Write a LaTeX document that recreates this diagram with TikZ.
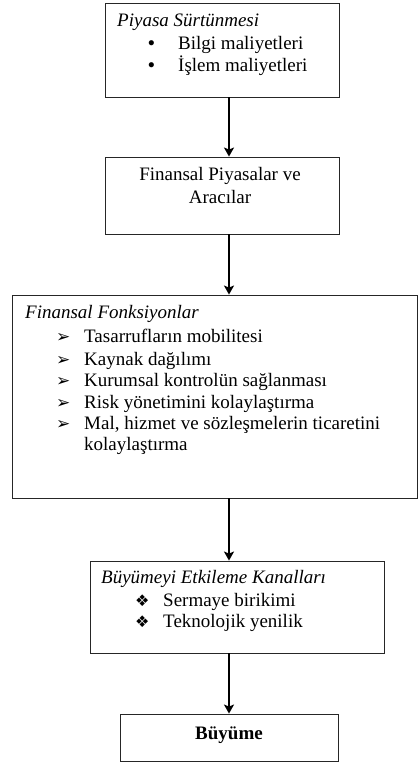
\documentclass[tikz,border=0pt]{standalone}
\usepackage{fontspec}
\setmainfont{Liberation Serif}
\newfontfamily\symfont{DejaVu Sans}
\usetikzlibrary{arrows.meta}
\tikzset{
  box/.style={draw=black!85, line width=0.9pt, rectangle, inner sep=0pt},
  arr/.style={line width=2pt, -{Stealth[length=9pt,width=10pt,inset=2pt]}},
  txt/.style={anchor=base west, inner sep=0pt, font=\fontsize{19}{22}\selectfont},
  ctxt/.style={anchor=base, inner sep=0pt, font=\fontsize{19}{22}\selectfont},
  sym/.style={anchor=base west, inner sep=0pt, font=\symfont\bfseries\fontsize{17}{19}\selectfont},
  sym2/.style={anchor=base west, inner sep=0pt, font=\symfont\fontsize{16}{18}\selectfont}
}
\begin{document}
\begin{tikzpicture}[x=1pt,y=-1pt]
\useasboundingbox (0,0) rectangle (418,762);
\coordinate (ax) at (229,0);
% boxes
\node[box, minimum width=234pt, minimum height=94pt] (b1) at (222,50) {};
\node[box, minimum width=234pt, minimum height=77pt] (b2) at (222,195.5) {};
\node[box, minimum width=405pt, minimum height=203pt] (b3) at (214.5,396.5) {};
\node[box, minimum width=294pt, minimum height=92pt] (b4) at (237,607) {};
\node[box, minimum width=218pt, minimum height=47pt] (b5) at (229,737.5) {};
% arrows
\draw[arr] (b1.south -| ax) -- (b2.north -| ax);
\draw[arr] (b2.south -| ax) -- (b3.north -| ax);
\draw[arr] (b3.south -| ax) -- (b4.north -| ax);
\draw[arr] (b4.south -| ax) -- (b5.north -| ax);
% box 1 text
\node[txt] (t1) at (117,27) {\itshape Piyasa Sürtünmesi};
\node[txt] (t1a) at (148,50) {\textbf{•}};
\node[txt] (t1b) at (178,50) {Bilgi maliyetleri};
\node[txt] (t1c) at (148,72) {\textbf{•}};
\node[txt] (t1d) at (178,72) {İşlem maliyetleri};
% box 2 text
\node[ctxt] (t2a) at (220,181) {Finansal Piyasalar ve};
\node[ctxt] (t2b) at (220,203) {Aracılar};
% box 3 text
\node[txt] (t3) at (25,318) {\itshape Finansal Fonksiyonlar};
\foreach \yy/\tt [count=\i] in {342/Tasarrufların mobilitesi, 365/Kaynak dağılımı, 386/Kurumsal kontrolün sağlanması, 408/Risk yönetimini kolaylaştırma, 429/{Mal, hizmet ve sözleşmelerin ticaretini}}{
  \node[sym] (s3\i) at (56,\yy) {➢};
  \node[txt] (t3\i) at (84,\yy) {\tt};
}
\node[txt] (t3x) at (84,450) {kolaylaştırma};
% box 4 text
\node[txt] (t4) at (101,583) {\itshape Büyümeyi Etkileme Kanalları};
\node[sym2] (s41) at (135,606) {❖};
\node[txt] (t41) at (163,606) {Sermaye birikimi};
\node[sym2] (s42) at (135,627) {❖};
\node[txt] (t42) at (163,627) {Teknolojik yenilik};
% box 5 text
\node[ctxt] (t5) at (229,739) {\bfseries Büyüme};
\end{tikzpicture}
\end{document}
